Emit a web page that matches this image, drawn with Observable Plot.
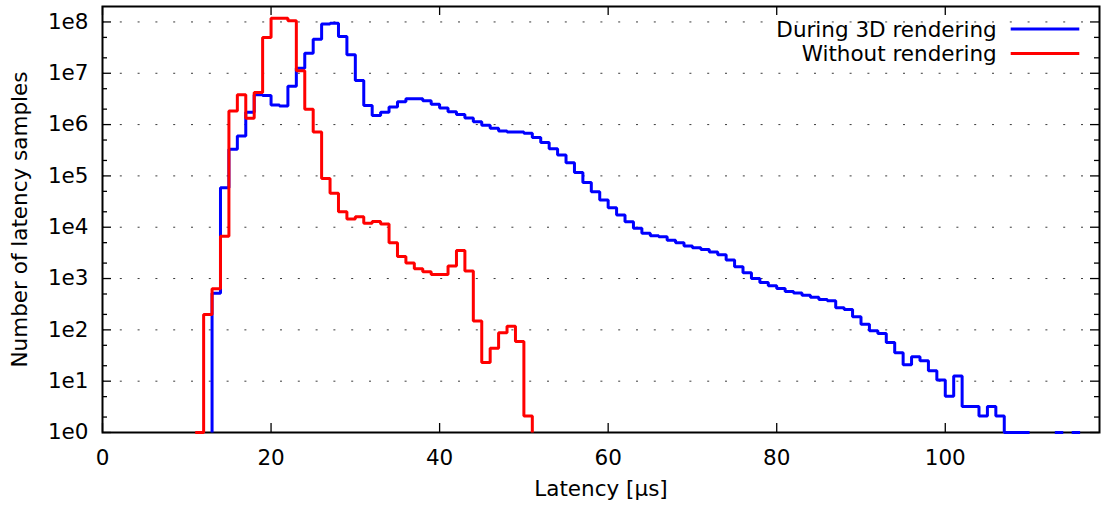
<!DOCTYPE html>
<html>
<head>
<meta charset="utf-8">
<script src="https://cdn.jsdelivr.net/npm/d3@7"></script>
<script src="https://cdn.jsdelivr.net/npm/@observablehq/plot@0.6"></script>
<style>
html, body { margin: 0; padding: 0; background: #fff; }
#chart svg { display: block; }
</style>
</head>
<body>
<div id="chart"></div>
<script>
// ---- data (1 µs bins; first value belongs to the bin starting at *Start) ----
const seriesNames = ["During 3D rendering", "Without rendering"];
const seriesColors = ["#0000ff", "#ff0000"];

const duringStart = 12;
const duringValues = [
  0, 515, 5.9e4, 3.3e5, 6.0e5, 1.74e6, 3.8e6, 3.7e6, 2.4e6, 2.3e6,      // 12-21
  5.6e6, 1.25e7, 2.46e7, 4.6e7, 9.1e7, 9.4e7, 5.2e7, 2.3e7, 7.2e6, 2.35e6, // 22-31
  1.5e6, 1.74e6, 2.2e6, 2.8e6, 3.2e6, 3.2e6, 2.9e6, 2.5e6, 2.1e6, 1.78e6, // 32-41
  1.58e6, 1.35e6, 1.14e6, 9.7e5, 8.5e5, 7.5e5, 7.2e5, 7.2e5, 6.8e5, 5.6e5, // 42-51
  4.5e5, 3.4e5, 2.55e5, 1.8e5, 1.16e5, 7.4e4, 4.9e4, 3.4e4, 2.4e4, 1.73e4, // 52-61
  1.28e4, 9.5e3, 7.6e3, 6.8e3, 6.5e3, 5.6e3, 5.0e3, 4.3e3, 4.0e3, 3.7e3,  // 62-71
  3.3e3, 2.9e3, 2.3e3, 1.7e3, 1.3e3, 1.0e3, 840, 720, 640, 560,          // 72-81
  520, 470, 430, 390, 370, 270, 250, 180, 128, 96,                      // 82-91
  85, 57, 36, 21, 30, 25, 16, 10.5, 5.1, 12.6,                          // 92-101
  3.2, 3.2, 2.1, 3.2, 2.1, 1, 1, 1, 0, 0,                               // 102-111
  0, 1, 0, 1                                                            // 112-115
];

const withoutStart = 11;
const withoutValues = [
  1, 200, 630, 6700, 1.85e6, 3.8e6, 1.33e6, 4.2e6, 5.0e7, 1.18e8,       // 11-20
  1.18e8, 1.05e8, 1.12e7, 2.0e6, 7.2e5, 8.9e4, 4.6e4, 2.0e4, 1.45e4, 1.6e4, // 21-30
  1.2e4, 1.3e4, 1.15e4, 5.0e3, 2.7e3, 2.0e3, 1.55e3, 1.35e3, 1.2e3, 1.2e3, // 31-40
  1.75e3, 3.5e3, 1.4e3, 148, 23, 44, 88, 118, 59, 2.1                   // 41-50
];

const xTicks = [0, 20, 40, 60, 80, 100];
const yMajorTicks = [1, 10, 100, 1e3, 1e4, 1e5, 1e6, 1e7, 1e8];
const yTickLabels = ["1e0", "1e1", "1e2", "1e3", "1e4", "1e5", "1e6", "1e7", "1e8"];
const yMinorTicks = [2, 5, 20, 50, 200, 500, 2e3, 5e3, 2e4, 5e4, 2e5, 5e5, 2e6, 5e6, 2e7, 5e7];
const yGridLines = [10, 100, 1e3, 1e4, 1e5, 1e6, 1e7, 1e8];
const xLabel = "Latency [µs]";
const yLabel = "Number of latency samples";

// ---- step geometry from the bins ----
function stepPoints(start, values) {
  const pts = [];
  values.forEach((v, i) => {
    if (!(v > 0)) return;
    const x0 = start + i, x1 = x0 + 1;
    const prev = i > 0 ? values[i - 1] : 0;
    const next = i < values.length - 1 ? values[i + 1] : 0;
    if (!(prev > 0)) { pts.push({x: NaN, y: NaN}); pts.push({x: x0, y: 1}); }
    pts.push({x: x0, y: v}, {x: x1, y: v});
    if (!(next > 0)) pts.push({x: x1, y: 1});
  });
  return pts;
}
const duringPts = stepPoints(duringStart, duringValues);
const withoutPts = stepPoints(withoutStart, withoutValues);

const W = 1101, H = 508, mL = 102, mR = 2, mT = 6, mB = 76;
const plotW = W - mL - mR, plotH = H - mT - mB;
const majorLen = 9, minorLen = 5;
const FS = 21.5;

const svg = Plot.plot({
  width: W, height: H,
  marginLeft: mL, marginRight: mR, marginTop: mT, marginBottom: mB,
  style: {fontFamily: "'DejaVu Sans', sans-serif", fontSize: FS + "px", background: "#fff", color: "#000"},
  x: {domain: [0, 118.3]},
  y: {type: "log", domain: [1, 2e8]},
  marks: [
    Plot.ruleY(yGridLines, {y: d => d, stroke: "#3a3a3a", strokeWidth: 1, strokeDasharray: "2,15.8"}),
    // inward ticks on all four sides
    Plot.ruleX(xTicks, {x: d => d, insetTop: plotH - majorLen, stroke: "#000", strokeWidth: 1.3}),
    Plot.ruleX(xTicks, {x: d => d, insetBottom: plotH - majorLen, stroke: "#000", strokeWidth: 1.3}),
    Plot.ruleY(yMajorTicks, {y: d => d, insetRight: plotW - majorLen, stroke: "#000", strokeWidth: 1.3}),
    Plot.ruleY(yMajorTicks, {y: d => d, insetLeft: plotW - majorLen, stroke: "#000", strokeWidth: 1.3}),
    Plot.ruleY(yMinorTicks, {y: d => d, insetRight: plotW - minorLen, stroke: "#000", strokeWidth: 1.3}),
    Plot.ruleY(yMinorTicks, {y: d => d, insetLeft: plotW - minorLen, stroke: "#000", strokeWidth: 1.3}),
    Plot.frame({stroke: "#000", strokeWidth: 2}),
    Plot.axisX(xTicks, {anchor: "bottom", tickSize: 0, tickPadding: 17, fontSize: FS, label: null}),
    Plot.axisY(yMajorTicks, {anchor: "left", tickSize: 0, tickPadding: 14, fontSize: FS, label: null,
      tickFormat: d => yTickLabels[yMajorTicks.indexOf(d)]}),
    Plot.text([xLabel], {text: d => d, frameAnchor: "bottom", dy: 63, fontSize: FS}),
    Plot.text([yLabel], {text: d => d, frameAnchor: "left", textAnchor: "middle", rotate: -90, dx: -82, dy: 0, fontSize: FS}),
    Plot.line(duringPts, {x: "x", y: "y", stroke: seriesColors[0], strokeWidth: 3, strokeLinejoin: "miter", strokeLinecap: "butt"}),
    Plot.line(withoutPts, {x: "x", y: "y", stroke: seriesColors[1], strokeWidth: 3, strokeLinejoin: "miter", strokeLinecap: "butt"})
  ]
});

// legend inside the top-right of the frame
const right = W - mR;
const lg = d3.select(svg).append("g").attr("font-family", "'DejaVu Sans', sans-serif").attr("font-size", FS);
seriesNames.forEach((name, i) => {
  const cy = mT + 23 + i * 24.5;
  lg.append("text").attr("x", right - 102.3).attr("y", cy).attr("dy", "0.35em")
    .attr("text-anchor", "end").attr("fill", "#000").text(name);
  lg.append("line").attr("x1", right - 88.3).attr("x2", right - 19.7)
    .attr("y1", cy).attr("y2", cy).attr("stroke", seriesColors[i]).attr("stroke-width", 3);
});

document.getElementById("chart").appendChild(svg);
</script>
</body>
</html>
